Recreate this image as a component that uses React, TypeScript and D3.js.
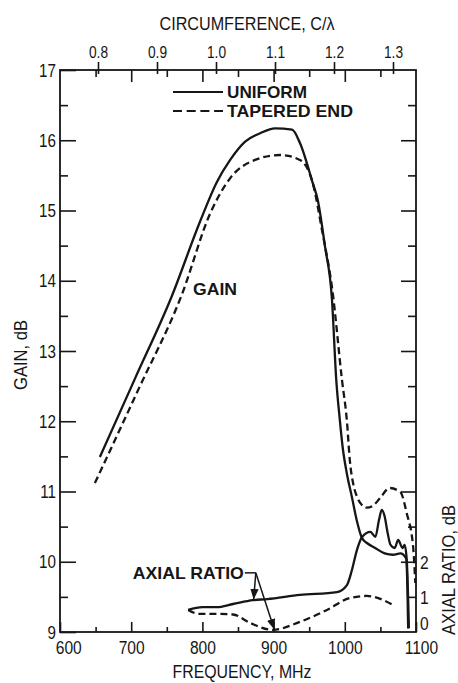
import React, { useEffect, useRef } from 'react';
import * as d3 from 'd3';

// gain, dB vs frequency, MHz
const uniformGain: [number, number][] = [
  [656, 11.49], [705, 12.6], [757, 13.78], [797, 14.85], [820, 15.4], [839, 15.72], [860, 15.98],
  [881, 16.1], [902, 16.17], [926, 16.15], [937, 15.96], [955, 15.39], [962, 15.15],
  [972, 14.5], [982, 13.73], [988, 12.59], [993, 12.02], [997, 11.63], [1003, 11.25],
  [1010, 10.92], [1017, 10.58], [1024, 10.34], [1032, 10.26], [1042, 10.2], [1056, 10.12],
  [1068, 10.1], [1078, 10.12], [1086, 10.05], [1088, 9.6], [1089, 9.05],
];

const taperedGain: [number, number][] = [
  [649, 11.12], [710, 12.45], [771, 13.8], [811, 14.96], [839, 15.46], [874, 15.72], [909, 15.79],
  [937, 15.72], [955, 15.39], [968, 14.72], [983, 13.83], [996, 12.59], [1003, 12.0],
  [1007, 11.45], [1012, 11.1], [1017, 10.93], [1023, 10.82], [1031, 10.77], [1040, 10.8],
  [1049, 10.9], [1063, 11.05], [1078, 10.99], [1087, 10.69], [1096, 10.21], [1099, 9.7],
];

// axial ratio, dB vs frequency, MHz (right scale)
const uniformAR: [number, number][] = [
  [780, 0.63], [800, 0.71], [820, 0.71], [843, 0.8], [871, 0.91], [891, 0.94],
  [937, 1.06], [989, 1.14], [1003, 1.34], [1010, 1.77], [1017, 2.34], [1024, 2.71],
  [1036, 2.86], [1043, 2.72], [1048, 3.2], [1052, 3.49], [1056, 3.3], [1060, 2.85],
  [1064, 2.5], [1070, 2.4], [1075, 2.63], [1081, 2.4], [1084, 2.49], [1087, 2.06],
  [1089, 0.91], [1090, 0.11],
];

const taperedAR: [number, number][] = [
  [780, 0.63], [795, 0.52], [815, 0.52], [843, 0.5], [867, 0.26], [899, 0.06],
  [937, 0.29], [975, 0.63], [1007, 0.97], [1031, 1.03], [1068, 0.77],
];

const gainMajor = [9, 10, 11, 12, 13, 14, 15, 16, 17];
const gainMinor = [9.5, 10.5, 11.5, 12.5, 13.5, 14.5, 15.5, 16.5];
const freqMajor = [600, 700, 800, 900, 1000, 1100];
const freqMinor = [650, 750, 850, 950, 1050];
const circTicks = [0.8, 0.9, 1.0, 1.1, 1.2, 1.3];
const arTicks = [0, 1, 2];

// leader for the "AXIAL RATIO" note: apex, then the two curve points
const arApex: [number, number] = [875, 1.69];
const arTips: [number, number][] = [[872, 0.93], [901, 0.07]];

const App: React.FC = () => {
  const ref = useRef<SVGSVGElement | null>(null);

  useEffect(() => {
    if (!ref.current) return;
    const svg = d3.select(ref.current);
    svg.selectAll('*').remove();

    const x = d3.scaleLinear().domain([600, 1100]).range([60, 416]);
    const yGain = d3.scaleLinear().domain([9, 17]).range([632, 70]);
    const yAR = d3.scaleLinear().domain([0, 2]).range([632, 562]);
    const xC = d3.scaleLinear().domain([0.8, 1.3]).range([98, 393]);

    const ink = '#161616';
    const font = "'Liberation Sans', Arial, sans-serif";

    const tidy = (g: any, size: number, squeeze: number) => {
      g.select('.domain').remove();
      g.selectAll('line').attr('stroke', ink).attr('stroke-width', 1.6);
      g.attr('font-family', font).attr('font-size', size);
      g.selectAll('text').attr('fill', ink).attr('transform', `scale(${squeeze},1)`);
    };
    const noLabel = () => '';

    // frame
    svg.append('rect')
      .attr('x', x(600)).attr('y', yGain(17))
      .attr('width', x(1100) - x(600)).attr('height', yGain(9) - yGain(17))
      .attr('fill', 'none').attr('stroke', ink).attr('stroke-width', 1.8);

    // left gain axis
    svg.append('g').attr('transform', `translate(${x(600)},0)`)
      .call(d3.axisLeft(yGain).tickValues(gainMajor).tickSizeInner(-16).tickSizeOuter(0)
        .tickPadding(5).tickFormat(d3.format('d')))
      .call((g: any) => tidy(g, 19, 0.8));
    svg.append('g').attr('transform', `translate(${x(600)},0)`)
      .call(d3.axisLeft(yGain).tickValues(gainMinor).tickSizeInner(-8).tickSizeOuter(0).tickFormat(noLabel))
      .call((g: any) => tidy(g, 19, 1));

    // right gain ticks
    svg.append('g').attr('transform', `translate(${x(1100)},0)`)
      .call(d3.axisRight(yGain).tickValues(gainMajor.slice(1, -1)).tickSizeInner(-15).tickSizeOuter(0).tickFormat(noLabel))
      .call((g: any) => tidy(g, 19, 1));
    svg.append('g').attr('transform', `translate(${x(1100)},0)`)
      .call(d3.axisRight(yGain).tickValues(gainMinor).tickSizeInner(-8).tickSizeOuter(0).tickFormat(noLabel))
      .call((g: any) => tidy(g, 19, 1));

    // right axial ratio labels
    svg.append('g').attr('transform', `translate(${x(1100)},0)`)
      .call(d3.axisRight(yAR).tickValues(arTicks).tickSize(0).tickPadding(5).tickFormat(d3.format('d')))
      .call((g: any) => {
        tidy(g, 19, 0.82);
        g.selectAll('text').filter((d: number) => d === 0).attr('y', -9);
      });

    // bottom frequency axis
    svg.append('g').attr('transform', `translate(0,${yGain(9)})`)
      .call(d3.axisBottom(x).tickValues(freqMajor).tickSizeInner(-10).tickSizeOuter(0).tickPadding(9).tickFormat(d3.format('d')))
      .call((g: any) => {
        tidy(g, 19, 0.82);
        g.selectAll('text').filter((d: number) => d === 600).attr('dx', 10);
        g.selectAll('text').filter((d: number) => d === 1100).attr('dx', 6);
      });
    svg.append('g').attr('transform', `translate(0,${yGain(9)})`)
      .call(d3.axisBottom(x).tickValues(freqMinor).tickSizeInner(-5).tickSizeOuter(0).tickFormat(noLabel))
      .call((g: any) => tidy(g, 19, 1));

    // top frequency ticks (inward)
    svg.append('g').attr('transform', `translate(0,${yGain(17)})`)
      .call(d3.axisTop(x).tickValues(freqMajor.slice(1, -1)).tickSizeInner(-12).tickSizeOuter(0).tickFormat(noLabel))
      .call((g: any) => tidy(g, 19, 1));
    svg.append('g').attr('transform', `translate(0,${yGain(17)})`)
      .call(d3.axisTop(x).tickValues(freqMinor).tickSizeInner(-7).tickSizeOuter(0).tickFormat(noLabel))
      .call((g: any) => tidy(g, 19, 1));

    // top circumference axis
    svg.append('g').attr('transform', `translate(0,${yGain(17)})`)
      .call(d3.axisTop(xC).tickValues(circTicks).tickSizeInner(8).tickSizeOuter(0).tickPadding(4).tickFormat(d3.format('.1f')))
      .call((g: any) => {
        tidy(g, 16, 0.86);
        g.selectAll('.tick').append('line').attr('y1', 0).attr('y2', 4)
          .attr('stroke', ink).attr('stroke-width', 1.6);
      });

    // axis titles
    const title = (tx: number, ty: number, rot: number, len: number, txt: string) =>
      svg.append('text')
        .attr('transform', `translate(${tx},${ty}) rotate(${rot})`)
        .attr('text-anchor', 'middle')
        .attr('font-family', font).attr('font-size', 19).attr('fill', ink)
        .attr('textLength', len).attr('lengthAdjust', 'spacingAndGlyphs')
        .text(txt);
    title(247, 30, 0, 175, 'CIRCUMFERENCE, C/λ');
    title(242, 678, 0, 139, 'FREQUENCY, MHz');
    title(27, 355, -90, 70, 'GAIN, dB');
    title(455, 570, -90, 130, 'AXIAL RATIO, dB');

    // curves
    const gainLine = d3.line<[number, number]>()
      .x(d => x(d[0])).y(d => yGain(d[1])).curve(d3.curveMonotoneX);
    const arLine = d3.line<[number, number]>()
      .x(d => x(d[0])).y(d => yAR(d[1])).curve(d3.curveMonotoneX);

    const draw = (d: string | null, dashed: boolean) =>
      svg.append('path').attr('d', d).attr('fill', 'none').attr('stroke', ink)
        .attr('stroke-width', 2.3).attr('stroke-linejoin', 'round')
        .attr('stroke-dasharray', dashed ? '7,4' : null);

    draw(gainLine(uniformGain), false);
    draw(gainLine(taperedGain), true);
    draw(arLine(uniformAR), false);
    draw(arLine(taperedAR), true);

    // legend
    const lg = svg.append('g');
    lg.append('line').attr('x1', 173).attr('x2', 223).attr('y1', 92).attr('y2', 92)
      .attr('stroke', ink).attr('stroke-width', 2.2);
    lg.append('line').attr('x1', 173).attr('x2', 223).attr('y1', 111).attr('y2', 111)
      .attr('stroke', ink).attr('stroke-width', 2.2).attr('stroke-dasharray', '9,4.7');
    const note = (tx: number, ty: number, len: number, txt: string) =>
      svg.append('text').attr('x', tx).attr('y', ty)
        .attr('font-family', font).attr('font-size', 17).attr('font-weight', 'bold').attr('fill', ink)
        .attr('textLength', len).attr('lengthAdjust', 'spacingAndGlyphs')
        .text(txt);
    note(227, 98, 80, 'UNIFORM');
    note(227, 117, 126, 'TAPERED END');
    note(193, 295, 44, 'GAIN');

    // axial ratio note with leaders
    const ax = x(arApex[0]);
    const ay = yAR(arApex[1]);
    note(ax - 123, ay + 6, 111, 'AXIAL RATIO');

    svg.append('defs').append('marker')
      .attr('id', 'tip').attr('viewBox', '0 0 10 10').attr('refX', 10).attr('refY', 5)
      .attr('markerWidth', 7).attr('markerHeight', 7).attr('orient', 'auto')
      .append('path').attr('d', 'M0,1 L10,5 L0,9 Z').attr('fill', ink);

    svg.append('line').attr('x1', ax - 11).attr('y1', ay).attr('x2', ax).attr('y2', ay)
      .attr('stroke', ink).attr('stroke-width', 1.5);
    arTips.forEach(t => {
      svg.append('line').attr('x1', ax).attr('y1', ay)
        .attr('x2', x(t[0])).attr('y2', yAR(t[1]))
        .attr('stroke', ink).attr('stroke-width', 1.5).attr('marker-end', 'url(#tip)');
    });
  }, []);

  return (
    <svg ref={ref} width={458} height={683}
      style={{ position: 'absolute', left: 0, top: 0, background: '#fff' }} />
  );
};

export default App;
